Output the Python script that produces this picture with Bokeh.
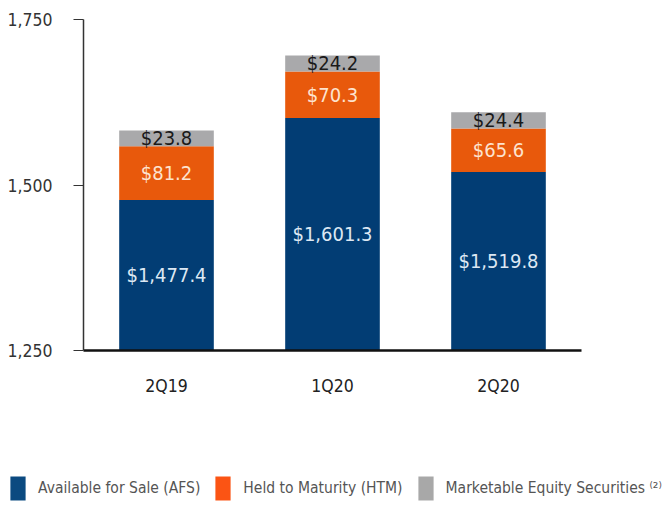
from bokeh.plotting import figure
from bokeh.models import ColumnDataSource, FixedTicker, NumeralTickFormatter, Range1d, FactorRange, Legend, LegendItem
from bokeh.core.properties import value
from bokeh.embed import file_html
from bokeh.resources import INLINE

quarters = ["2Q19", "1Q20", "2Q20"]
afs = [1477.4, 1601.3, 1519.8]
htm = [81.2, 70.3, 65.6]
mes = [23.8, 24.2, 24.4]
y_ticks = [1250, 1500, 1750]
series_names = ["Available for Sale (AFS)", "Held to Maturity (HTM)", "Marketable Equity Securities \u207d\u00b2\u207e"]
colors = ["#023d74", "#e8590c", "#a9a9ab"]
legend_colors = ["#0b4a80", "#fb5414", "#a8a8a8"]
label_colors = ["#dde8f3", "#fde3cf", "#1a1a1a"]

FONT = "DejaVu Sans Condensed"
base = y_ticks[0]
top_val = y_ticks[-1]

# page layout (pixels)
W, H = 664, 513
TOP_PX, AXIS_PX = 19, 350
ppu = (AXIS_PX - TOP_PX) / (top_val - base)
y_start = base - (H - AXIS_PX) / ppu
y_end = top_val + TOP_PX / ppu

bottoms_afs = [base] * 3
tops_afs = afs
bottoms_htm = afs
tops_htm = [a + h for a, h in zip(afs, htm)]
bottoms_mes = tops_htm
tops_mes = [t + m for t, m in zip(tops_htm, mes)]

src = ColumnDataSource(dict(
    x=quarters,
    b1=bottoms_afs, t1=tops_afs,
    b2=bottoms_htm, t2=tops_htm,
    b3=bottoms_mes, t3=tops_mes,
    m1=[(b + t) / 2 for b, t in zip(bottoms_afs, tops_afs)],
    m2=[(b + t) / 2 for b, t in zip(bottoms_htm, tops_htm)],
    m3=[(b + t) / 2 for b, t in zip(bottoms_mes, tops_mes)],
    l1=["${:,.1f}".format(v) for v in afs],
    l2=["${:,.1f}".format(v) for v in htm],
    l3=["${:,.1f}".format(v) for v in mes],
))

p = figure(width=W, height=H,
           x_range=FactorRange(*quarters, range_padding=0.5, range_padding_units="absolute"),
           y_range=Range1d(y_start, y_end), output_backend="svg", toolbar_location=None,
           min_border=0)
p.outline_line_color = None
p.xgrid.visible = False
p.ygrid.visible = False

BW = 0.57
p.vbar(x="x", bottom="b1", top="t1", width=BW, source=src, fill_color=colors[0], line_color=None)
p.vbar(x="x", bottom="b2", top="t2", width=BW, source=src, fill_color=colors[1], line_color=None)
p.vbar(x="x", bottom="b3", top="t3", width=BW, source=src, fill_color=colors[2], line_color=None)

for mcol, lcol, c in [("m1", "l1", label_colors[0]), ("m2", "l2", label_colors[1]), ("m3", "l3", label_colors[2])]:
    p.text(x="x", y=mcol, text=lcol, source=src, text_align="center", text_baseline="middle",
           text_font=value(FONT), text_font_size="20px", text_color=c)

ya = p.yaxis[0]
ya.fixed_location = 0
ya.bounds = (base, top_val)
ya.ticker = FixedTicker(ticks=y_ticks)
ya.formatter = NumeralTickFormatter(format="0,0")
ya.major_tick_out = 10
ya.major_tick_in = 0
ya.minor_tick_line_color = None
ya.axis_line_color = "#333333"
ya.major_tick_line_color = "#333333"
ya.axis_line_width = 1.5
ya.major_label_standoff = 21
ya.major_label_text_font = FONT
ya.major_label_text_font_size = "17.5px"
ya.major_label_text_color = "#333333"

xa = p.xaxis[0]
xa.fixed_location = base
xa.bounds = (0, len(quarters))
xa.major_tick_line_color = None
xa.minor_tick_line_color = None
xa.axis_line_color = "#111111"
xa.axis_line_width = 2.5
xa.major_label_standoff = 19
xa.major_label_text_font = FONT
xa.major_label_text_font_size = "17.5px"
xa.major_label_text_color = "#222222"

# Legend proxies: zero-size rects that only lend their colours to the legend
proxies = [p.rect(x=[quarters[0]], y=[base], width=0, height=0, fill_color=c, line_color=None)
           for c in legend_colors]
legend = Legend(items=[LegendItem(label=n, renderers=[r]) for n, r in zip(series_names, proxies)],
                orientation="horizontal", location=(8, 10), glyph_width=19, glyph_height=30,
                label_text_font=FONT, label_text_font_size="15.5px", label_text_color="#555555",
                label_standoff=11, spacing=13, padding=0, margin=0, border_line_color=None,
                background_fill_alpha=0, label_height=30)
p.add_layout(legend, "center")

open("out.html", "w").write(file_html(p, INLINE))
